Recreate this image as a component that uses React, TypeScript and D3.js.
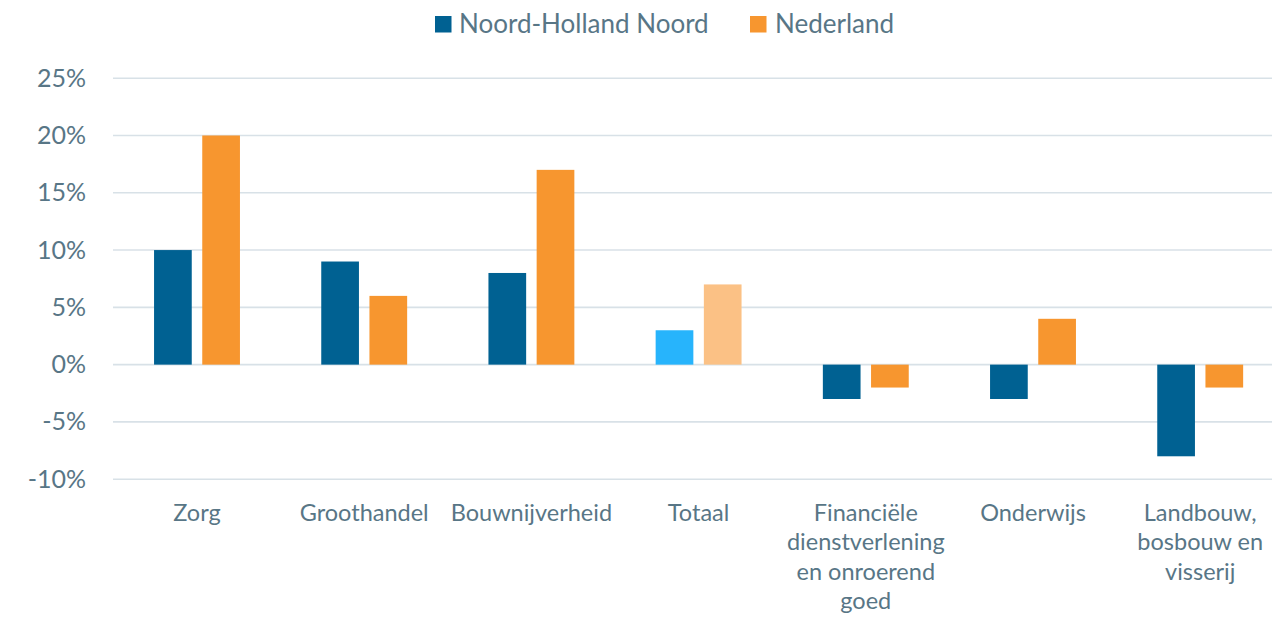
import React from "react";
import * as d3 from "d3";

const categories = [
  ["Zorg"],
  ["Groothandel"],
  ["Bouwnijverheid"],
  ["Totaal"],
  ["Financiële", "dienstverlening", "en onroerend", "goed"],
  ["Onderwijs"],
  ["Landbouw,", "bosbouw en", "visserij"],
];
const seriesNames = ["Noord-Holland Noord", "Nederland"];
const nhnValues = [10, 9, 8, 3, -3, -3, -8];
const nlValues = [20, 6, 17, 7, -2, 4, -2];
const yTicks = [25, 20, 15, 10, 5, 0, -5, -10];

const W = 1272;
const H = 618;
const BLUE = "#006192";
const ORANGE = "#f7962f";
const LIGHT_BLUE = "#27b4fc";
const LIGHT_ORANGE = "#fbc185";
const TEXT = "#587686";
const GRID = "#d8e1e7";
const FONT = "Lato, 'Open Sans', sans-serif";

export default function App() {
  const x = d3
    .scaleBand<number>()
    .domain(categories.map((_, i) => i))
    .range([113.4, 113.4 + 7 * 167.2]);
  const y = d3.scaleLinear().domain([-10, 25]).range([479.2, 78.2]);
  const barW = 37.7;
  const gap = 10.5;

  return (
    <svg
      width={W}
      height={H}
      style={{ position: "absolute", left: 0, top: 0, background: "#fff" }}
      fontFamily={FONT}
    >
      {/* legend */}
      <g>
        <rect x={435} y={16} width={16.5} height={16.5} fill={BLUE} />
        <text x={459} y={32.5} fontSize={26} fill={TEXT}>
          {seriesNames[0]}
        </text>
        <rect x={750} y={16} width={16.5} height={16.5} fill={ORANGE} />
        <text x={775} y={32.5} fontSize={26} fill={TEXT}>
          {seriesNames[1]}
        </text>
      </g>
      {/* grid + y labels */}
      {yTicks.map((t) => (
        <g key={t}>
          <line x1={113} x2={W} y1={y(t)} y2={y(t)} stroke={GRID} strokeWidth={1.6} />
          <text
            x={86}
            y={y(t) + 8.5}
            textAnchor="end"
            fontSize={25}
            fill={TEXT}
          >
            {t}%
          </text>
        </g>
      ))}
      {/* bars */}
      {categories.map((_, i) => {
        const c = (x(i) as number) + x.bandwidth() / 2;
        const isTotal = i === 3;
        const v1 = nhnValues[i];
        const v2 = nlValues[i];
        return (
          <g key={i}>
            <rect
              x={c - gap / 2 - barW}
              y={Math.min(y(v1), y(0))}
              width={barW}
              height={Math.abs(y(v1) - y(0))}
              fill={isTotal ? LIGHT_BLUE : BLUE}
            />
            <rect
              x={c + gap / 2}
              y={Math.min(y(v2), y(0))}
              width={barW}
              height={Math.abs(y(v2) - y(0))}
              fill={isTotal ? LIGHT_ORANGE : ORANGE}
            />
          </g>
        );
      })}
      {/* category labels */}
      {categories.map((lines, i) => {
        const c = (x(i) as number) + x.bandwidth() / 2;
        return (
          <text key={i} textAnchor="middle" fontSize={23.5} fill={TEXT}>
            {lines.map((l, j) => (
              <tspan key={j} x={c} y={521 + j * 29.4}>
                {l}
              </tspan>
            ))}
          </text>
        );
      })}
    </svg>
  );
}
